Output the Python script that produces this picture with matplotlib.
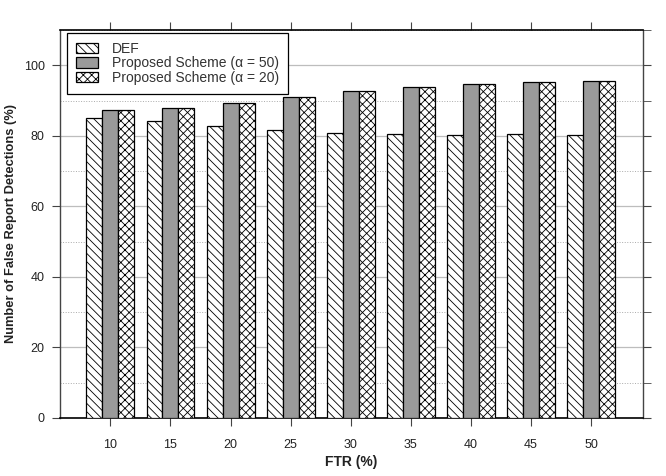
import numpy as np
import matplotlib
matplotlib.use('Agg')
import matplotlib.pyplot as plt
from matplotlib.ticker import MultipleLocator

plt.rcParams['font.family'] = ['Liberation Sans', 'DejaVu Sans']
plt.rcParams['hatch.linewidth'] = 0.6

ftr = [10, 15, 20, 25, 30, 35, 40, 45, 50]
def_vals = [85.0, 84.2, 82.8, 81.6, 80.9, 80.6, 80.2, 80.6, 80.2]
alpha50_vals = [87.4, 87.9, 89.2, 91.1, 92.8, 93.8, 94.7, 95.2, 95.6]
alpha20_vals = [87.4, 87.9, 89.2, 91.1, 92.8, 93.8, 94.7, 95.2, 95.6]
labels = ['DEF', 'Proposed Scheme (\u03b1 = 50)', 'Proposed Scheme (\u03b1 = 20)']

fig = plt.figure(figsize=(6.66, 4.76), dpi=100)
ax = fig.add_axes([0.090, 0.122, 0.875, 0.815])

w = 1.33
x = np.array(ftr, dtype=float)
ax.bar(x - w, def_vals, w, color='white', edgecolor='black', hatch='\\\\\\\\',
       linewidth=0.9, label=labels[0], zorder=3)
ax.bar(x, alpha50_vals, w, color='#9a9a9a', edgecolor='black',
       linewidth=0.9, label=labels[1], zorder=3)
ax.bar(x + w, alpha20_vals, w, color='white', edgecolor='black', hatch='xxxx',
       linewidth=0.9, label=labels[2], zorder=3)

ax.set_xlim(5.8, 54.3)
ax.set_ylim(0, 110)
ax.set_xticks(ftr)
ax.yaxis.set_major_locator(MultipleLocator(20))
ax.yaxis.set_minor_locator(MultipleLocator(10))

ax.grid(which='major', axis='y', color='#bdbdbd', linestyle='-', linewidth=0.9, zorder=0)
ax.grid(which='minor', axis='y', color='#aaaaaa', linestyle=':', linewidth=0.7, zorder=0)
ax.set_axisbelow(True)

ax.tick_params(axis='x', which='major', direction='out', length=6, top=True, pad=9,
               labelsize=9, labelcolor='#222222', color='#444444')
ax.tick_params(axis='y', which='major', direction='out', length=6, left=True, right=True,
               pad=5, labelsize=9, labelcolor='#222222', color='#444444')
ax.tick_params(axis='y', which='minor', direction='out', length=6, left=False, right=True,
               color='#444444')

for s in ['top', 'bottom']:
    ax.spines[s].set_linewidth(1.2)
for s in ['left', 'right']:
    ax.spines[s].set_linewidth(1.0)
    ax.spines[s].set_color('#444444')

ax.set_xlabel('FTR (%)', fontsize=10, fontweight='bold', color='#222222', labelpad=3)
ax.set_ylabel('Number of False Report Detections (%)', fontsize=9.3,
              fontweight='bold', color='#222222', labelpad=5)

leg = ax.legend(loc='upper left', bbox_to_anchor=(0.012, 0.992), borderaxespad=0,
                fontsize=10, handlelength=1.6, handleheight=0.75, labelspacing=0.02,
                handletextpad=1.0, fancybox=False, edgecolor='black', framealpha=1,
                borderpad=0.65)
leg.get_frame().set_linewidth(0.9)
for t in leg.get_texts():
    t.set_color('#333333')

fig.savefig('out.png', dpi=100)
